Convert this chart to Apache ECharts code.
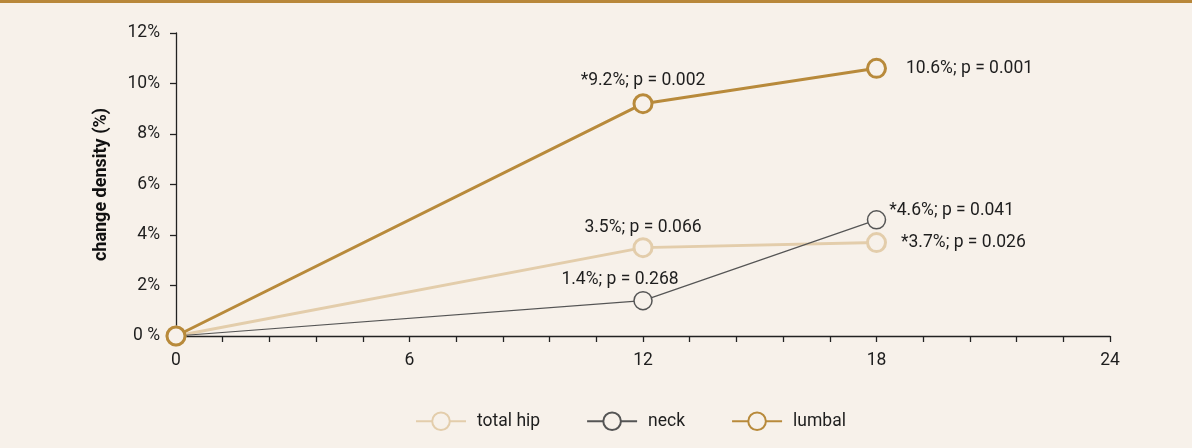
<!DOCTYPE html>
<html>
<head>
<meta charset="utf-8">
<script src="https://cdn.jsdelivr.net/npm/echarts@6/dist/echarts.min.js"></script>
<style>
html,body{margin:0;padding:0;background:#f7f1ea;}
#c{width:1192px;height:448px;}
</style>
</head>
<body>
<div id="c"></div>
<script>
var months = [0, 12, 18];
var totalHip = [0, 3.5, 3.7];
var neck = [0, 1.4, 4.6];
var lumbal = [0, 9.2, 10.6];
var totalHipLabels = ['', '3.5%; p = 0.066', '*3.7%; p = 0.026'];
var neckLabels = ['', '1.4%; p = 0.268', '*4.6%; p = 0.041'];
var lumbalLabels = ['', '*9.2%; p = 0.002', '10.6%; p = 0.001'];
var xTickLabels = ['0', '6', '12', '18', '24'];

var FONT = 'Roboto, "Noto Sans", sans-serif';
var FS = 17.5;
var cLumbal = '#b88a3b', cHip = '#e3cdab', cNeck = '#555555';

function pts(vals, labels, pos) {
  return months.map(function (m, i) {
    var d = { value: [m, vals[i]] };
    if (labels[i]) {
      d.label = { show: true, formatter: labels[i], position: pos[i].p, offset: pos[i].o || [0, 0] };
    }
    return d;
  });
}

var chart = echarts.init(document.getElementById('c'), null, { renderer: 'canvas' });
var labelStyle = { color: '#1e1e1e', fontSize: FS, fontFamily: FONT };
chart.setOption({
  backgroundColor: '#f7f1ea',
  animation: false,
  graphic: [{ type: 'rect', left: 0, top: 0, shape: { width: 1192, height: 3 }, style: { fill: '#b8873a' } }],
  grid: { left: 176, right: 82, top: 33, bottom: 112, containLabel: false },
  legend: {
    bottom: 12,
    left: 410,
    itemGap: 46,
    itemWidth: 50,
    itemHeight: 22,
    textStyle: { color: '#1e1e1e', fontSize: FS, fontFamily: FONT, padding: [0, 0, 0, 6] },
    data: ['total hip', 'neck', 'lumbal']
  },
  xAxis: {
    type: 'value', min: 0, max: 24, interval: 1.2,
    axisLine: { onZero: false, lineStyle: { color: '#222', width: 1.3 } },
    axisTick: { show: true, length: 6, lineStyle: { color: '#222', width: 1.3 } },
    splitLine: { show: false },
    axisLabel: {
      color: '#1e1e1e', fontSize: FS, fontFamily: FONT, margin: 16,
      formatter: function (v) {
        var k = v / 6;
        if (Math.abs(k - Math.round(k)) < 1e-6) return xTickLabels[Math.round(k)];
        return '';
      }
    }
  },
  yAxis: {
    type: 'value', min: 0, max: 12, interval: 2,
    name: 'change density (%)', nameLocation: 'middle', nameGap: 66,
    nameTextStyle: { color: '#111', fontSize: 18, fontWeight: 'bold', fontFamily: FONT },
    axisLine: { show: true, lineStyle: { color: '#222', width: 1.3 } },
    axisTick: { show: true, length: 6, lineStyle: { color: '#222', width: 1.3 } },
    splitLine: { show: false },
    axisLabel: {
      color: '#1e1e1e', fontSize: FS, fontFamily: FONT, margin: 16,
      formatter: function (v) { return v === 0 ? '0 %' : v + '%'; }
    }
  },
  series: [
    {
      name: 'total hip', type: 'line', symbol: 'circle', symbolSize: 18, z: 2,
      itemStyle: { color: '#f7f1ea', borderColor: cHip, borderWidth: 3 },
      lineStyle: { color: cHip, width: 3 },
      label: labelStyle,
      data: pts(totalHip, totalHipLabels, [{}, { p: 'top', o: [0, 4] }, { p: 'right', o: [9, 0] }])
    },
    {
      name: 'neck', type: 'line', symbol: 'circle', symbolSize: 18, z: 3,
      itemStyle: { color: '#f7f1ea', borderColor: cNeck, borderWidth: 1.5 },
      lineStyle: { color: cNeck, width: 1.2 },
      label: labelStyle,
      data: pts(neck, neckLabels, [{}, { p: 'top', o: [-23, 3] }, { p: 'right', o: [-2, -9] }])
    },
    {
      name: 'lumbal', type: 'line', symbol: 'circle', symbolSize: 18, z: 4,
      itemStyle: { color: '#f7f1ea', borderColor: cLumbal, borderWidth: 3 },
      lineStyle: { color: cLumbal, width: 3 },
      label: labelStyle,
      data: pts(lumbal, lumbalLabels, [{}, { p: 'top', o: [0, 1] }, { p: 'right', o: [14, 0] }])
    }
  ]
});
</script>
</body>
</html>
